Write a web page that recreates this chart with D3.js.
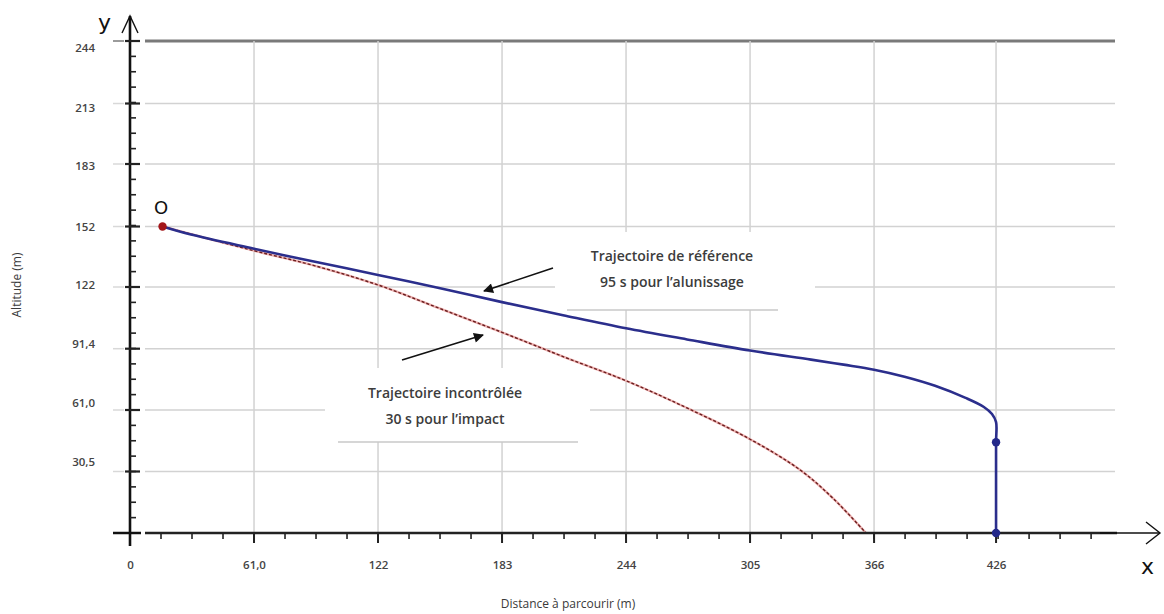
<!DOCTYPE html>
<html>
<head>
<meta charset="utf-8">
<script src="https://cdn.jsdelivr.net/npm/d3@7"></script>
<style>
body{margin:0;background:#fff}
</style>
</head>
<body>
<svg id="chart" width="1164" height="614"></svg>
<script>
// tick values (feet converted to metres, as printed)
var xTicks = [0, 61, 122, 183, 244, 305, 366, 426]
var xTickLabels = ['0', '61,0', '122', '183', '244', '305', '366', '426']
var yTicks = [30.5, 61, 91.4, 122, 152, 183, 213, 244]
var yTickLabels = ['30,5', '61,0', '91,4', '122', '152', '183', '213', '244']

// reference trajectory (95 s)
var refX = [16, 30, 61, 91, 122, 152, 183, 213, 244, 274, 305, 335, 351, 366, 381, 396, 411, 420, 424, 426, 426, 426]
var refY = [152, 148, 141, 134.5, 128, 121.5, 114.5, 108, 101.5, 96, 90.5, 86, 83.5, 81, 77.5, 73, 67, 62.5, 59, 55, 45, 0]
var refDotsX = [426, 426]
var refDotsY = [45, 0]

// uncontrolled trajectory (30 s)
var crashX = [16, 61, 91, 122, 152, 183, 213, 244, 274, 305, 330, 346, 362]
var crashY = [152, 140, 132.5, 123, 111.5, 99.5, 87.5, 75.5, 62, 46.5, 31, 17, 0]

var originX = [16]
var originY = [152]

var noteRef = ['Trajectoire de référence', '95 s pour l\u2019alunissage']
var noteCrash = ['Trajectoire incontrôlée', '30 s pour l\u2019impact']

var font = 'Open Sans, Lato, sans-serif'
var svg = d3.select('#chart')

var x = d3.scaleLinear().domain([0, 485]).range([130, 1116])
var y = d3.scaleLinear().domain([0, 244]).range([533, 41])
// printed labels sit on a slightly tighter spacing than the grid
var yLab = d3.scaleLinear().domain([0, 244]).range([521, 48])

svg.append('rect').attr('width', 1164).attr('height', 614).attr('fill', '#fff')

// horizontal grid
svg.append('g').selectAll('line').data(yTicks).enter()
    .append('line')
    .attr('x1', 145).attr('x2', 1115)
    .attr('y1', function(d){ return y(d) })
    .attr('y2', function(d){ return y(d) })
    .attr('stroke', function(d){ return d == 244 ? '#7a7a7a' : '#d2d2d2' })
    .attr('stroke-width', function(d){ return d == 244 ? 3 : 1.5 })
svg.append('g').selectAll('line').data(yTicks).enter()
    .append('line')
    .attr('x1', 113).attr('x2', 124)
    .attr('y1', function(d){ return y(d) })
    .attr('y2', function(d){ return y(d) })
    .attr('stroke', function(d){ return d == 244 ? '#7a7a7a' : '#d8d8d8' })
    .attr('stroke-width', 1.5)

// vertical grid
svg.append('g').selectAll('line').data(xTicks.slice(1)).enter()
    .append('line')
    .attr('x1', function(d){ return x(d) })
    .attr('x2', function(d){ return x(d) })
    .attr('y1', y(244)).attr('y2', y(0))
    .attr('stroke', '#d2d2d2')
    .attr('stroke-width', 1.5)

// text boxes (white, hide the grid, grey bottom rule)
function noteBox(x0, y0, w, h, rx0, rx1, lines, cx, ty){
    svg.append('rect').attr('x', x0).attr('y', y0).attr('width', w).attr('height', h).attr('fill', '#fff')
    svg.append('line').attr('x1', rx0).attr('x2', rx1)
        .attr('y1', y0 + h).attr('y2', y0 + h)
        .attr('stroke', '#c8c8c8').attr('stroke-width', 1.5)
    svg.append('g').selectAll('text').data(lines).enter()
        .append('text')
        .attr('x', cx)
        .attr('y', function(d, i){ return ty + i * 26 })
        .attr('text-anchor', 'middle')
        .attr('font-family', font)
        .attr('font-size', '14px')
        .attr('font-weight', 600)
        .attr('fill', '#3c3c3c')
        .text(function(d){ return d })
}
noteBox(555, 232, 260, 78, 567, 778, noteRef, 672, 261)
noteBox(325, 368, 265, 74, 338, 578, noteCrash, 445, 398)

// arrows
var defs = svg.append('defs')
defs.append('marker')
    .attr('id', 'head')
    .attr('viewBox', '0 0 10 10')
    .attr('refX', 9).attr('refY', 5)
    .attr('markerWidth', 13).attr('markerHeight', 10)
    .attr('markerUnits', 'userSpaceOnUse')
    .attr('orient', 'auto')
    .append('path').attr('d', 'M0,0 L10,5 L0,10 Z').attr('fill', '#111')
svg.append('line').attr('x1', 553).attr('y1', 268).attr('x2', 484).attr('y2', 291)
    .attr('stroke', '#111').attr('stroke-width', 1.6).attr('marker-end', 'url(#head)')
svg.append('line').attr('x1', 402).attr('y1', 360).attr('x2', 483).attr('y2', 335)
    .attr('stroke', '#111').attr('stroke-width', 1.6).attr('marker-end', 'url(#head)')

// curves
var line = d3.line()
    .x(function(d){ return x(d[0]) })
    .y(function(d){ return y(d[1]) })
    .curve(d3.curveCatmullRom.alpha(0.5))

var crash = crashX.map(function(v, i){ return [v, crashY[i]] })
var ref = refX.map(function(v, i){ return [v, refY[i]] })

svg.append('path').datum(crash).attr('d', line)
    .attr('fill', 'none').attr('stroke', '#eeb0b0').attr('stroke-width', 2.4)
svg.append('path').datum(crash).attr('d', line)
    .attr('fill', 'none').attr('stroke', '#6a1f1f').attr('stroke-width', 1.4)
    .attr('stroke-dasharray', '3,2')

svg.append('path').datum(ref).attr('d', line)
    .attr('fill', 'none').attr('stroke', '#2b2e8c').attr('stroke-width', 2.6)
    .attr('stroke-linejoin', 'round')

// axes
var xMinor = d3.range(15.25, 485, 15.25)
var yMinor = d3.range(7.625, 244, 7.625)

var xAxis = svg.append('g').attr('transform', 'translate(0,' + y(0) + ')')
    .call(d3.axisBottom(x).tickValues(xTicks)
        .tickFormat(function(d, i){ return xTickLabels[i] })
        .tickSize(0).tickPadding(28))
xAxis.select('.domain').remove()
xAxis.selectAll('text')
    .attr('font-family', font).attr('font-size', '11.5px').attr('font-weight', 600).attr('fill', '#444')

var yAxis = svg.append('g').attr('transform', 'translate(' + x(0) + ',0)')
    .call(d3.axisLeft(yLab).tickValues(yTicks)
        .tickFormat(function(d, i){ return yTickLabels[i] })
        .tickSize(0).tickPadding(35))
yAxis.select('.domain').remove()
yAxis.selectAll('text')
    .attr('font-family', font).attr('font-size', '11.5px').attr('font-weight', 600).attr('fill', '#444')

// x axis line, gap right of the y axis like the original
svg.append('line').attr('x1', 113).attr('x2', 141).attr('y1', y(0)).attr('y2', y(0))
    .attr('stroke', '#111').attr('stroke-width', 2.5)
svg.append('line').attr('x1', 145).attr('x2', 1117).attr('y1', y(0)).attr('y2', y(0))
    .attr('stroke', '#222').attr('stroke-width', 2.5)
svg.append('line').attr('x1', 1100).attr('x2', 1160).attr('y1', y(0)).attr('y2', y(0))
    .attr('stroke', '#111').attr('stroke-width', 1.4)
svg.append('path').attr('d', 'M1146,522 L1160,533 L1146,544')
    .attr('fill', 'none').attr('stroke', '#111').attr('stroke-width', 1.4)

svg.append('g').selectAll('line').data(xMinor).enter()
    .append('line')
    .attr('x1', function(d){ return x(d) }).attr('x2', function(d){ return x(d) })
    .attr('y1', y(0)).attr('y2', y(0) + 6)
    .attr('stroke', '#222').attr('stroke-width', 1.6)
svg.append('g').selectAll('line').data(xTicks).enter()
    .append('line')
    .attr('x1', function(d){ return x(d) }).attr('x2', function(d){ return x(d) })
    .attr('y1', y(0)).attr('y2', y(0) + 10)
    .attr('stroke', '#222').attr('stroke-width', 2)

// y axis line with arrow
svg.append('line').attr('x1', x(0)).attr('x2', x(0)).attr('y1', 546).attr('y2', 16)
    .attr('stroke', '#111').attr('stroke-width', 2.6)
svg.append('path').attr('d', 'M122,33 L130,16 L138,33')
    .attr('fill', 'none').attr('stroke', '#111').attr('stroke-width', 1.4)
svg.append('g').selectAll('line').data(yMinor).enter()
    .append('line')
    .attr('x1', x(0)).attr('x2', x(0) + 6)
    .attr('y1', function(d){ return y(d) }).attr('y2', function(d){ return y(d) })
    .attr('stroke', '#222').attr('stroke-width', 1.6)
svg.append('g').selectAll('line').data(yTicks).enter()
    .append('line')
    .attr('x1', x(0) - 5).attr('x2', x(0) + 10)
    .attr('y1', function(d){ return y(d) }).attr('y2', function(d){ return y(d) })
    .attr('stroke', '#222').attr('stroke-width', 2.2)

// points
svg.append('g').selectAll('circle').data(refDotsX).enter()
    .append('circle')
    .attr('cx', function(d){ return x(d) })
    .attr('cy', function(d, i){ return y(refDotsY[i]) })
    .attr('r', 4.2).attr('fill', '#23288a')
svg.append('g').selectAll('circle').data(originX).enter()
    .append('circle')
    .attr('cx', function(d){ return x(d) })
    .attr('cy', function(d, i){ return y(originY[i]) })
    .attr('r', 4.2).attr('fill', '#a3161a')

// letters
svg.append('text').attr('x', 154).attr('y', 214).text('O')
    .attr('font-family', 'DejaVu Sans, sans-serif').attr('font-size', '18px').attr('fill', '#111')
svg.append('text').attr('x', 98).attr('y', 30).text('y')
    .attr('font-family', 'DejaVu Sans, sans-serif').attr('font-size', '22px').attr('fill', '#111')
svg.append('text').attr('x', 1141).attr('y', 574).text('x')
    .attr('font-family', 'DejaVu Sans, sans-serif').attr('font-size', '22px').attr('fill', '#111')

// axis titles
svg.append('text')
    .attr('transform', 'translate(21,285) rotate(-90)')
    .attr('text-anchor', 'middle')
    .attr('font-family', font).attr('font-size', '12px').attr('fill', '#3a3a3a')
    .text('Altitude  (m)')
svg.append('text')
    .attr('x', 568).attr('y', 608)
    .attr('text-anchor', 'middle')
    .attr('font-family', font).attr('font-size', '12px').attr('fill', '#3a3a3a')
    .text('Distance à parcourir (m)')
</script>
</body>
</html>
